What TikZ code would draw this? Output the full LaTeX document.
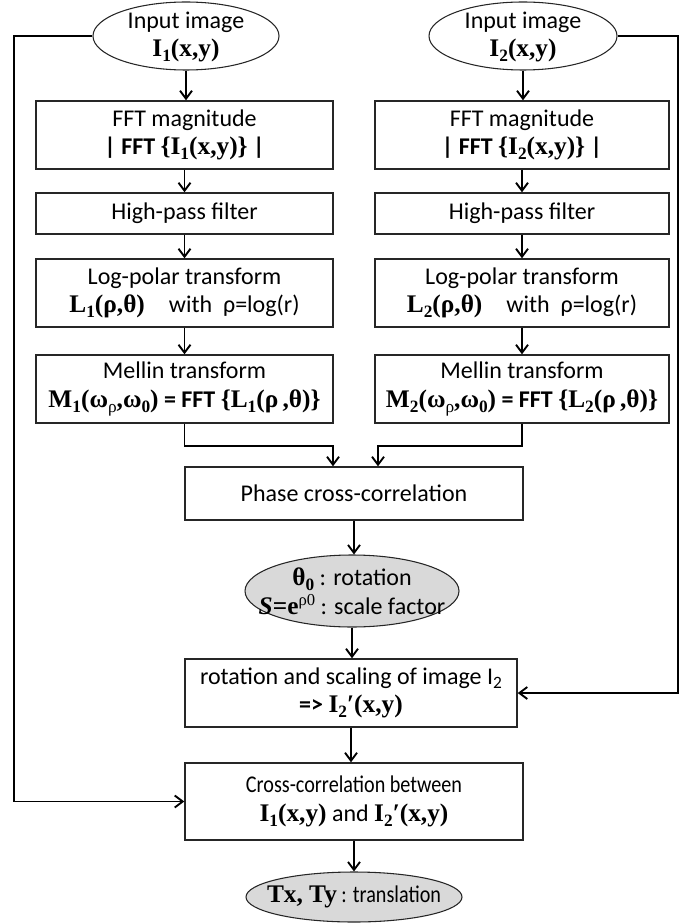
\documentclass[tikz,border=0pt]{standalone}
\usepackage{fontspec}
\setmainfont{Carlito}
\newfontfamily\srf{Liberation Serif}
\newfontfamily\cond{Carlito}[FakeStretch=0.84]
\usetikzlibrary{shapes.geometric,arrows.meta}
\newcommand\sbs[1]{\raisebox{-0.4ex}{\fontsize{13}{12}\selectfont #1}}
\newcommand\sps[1]{\raisebox{0.75ex}{\fontsize{12.5}{12}\selectfont #1}}
\newcommand\mb[1]{{\srf\bfseries\fontsize{19}{21.5}\selectfont #1}}
\begin{document}
\begin{tikzpicture}[x=0.75pt,y=-0.75pt,
  box/.style={draw=black!85, line width=1.1pt, rectangle, inner sep=0pt, align=center, font=\fontsize{18}{21.5}\selectfont},
  ell/.style={draw=black!85, ellipse, line width=0.8pt, inner sep=0pt},
  lbl/.style={align=center, font=\fontsize{18}{21.5}\selectfont, inner sep=0pt},
  arr/.style={-{Straight Barb[length=6pt,width=9pt]}, line width=1.4pt},
  conn/.style={line width=1.4pt}]
\useasboundingbox (0,0) rectangle (682,923);
% left column
\node[ell, minimum width=186*0.75pt, minimum height=68*0.75pt] (e1) at (186,36) {};
\node[lbl] (e1t) at (186,37) {Input image\\ \mb{I\sbs{1}(x,y)}};
\node[box, minimum width=297*0.75pt, minimum height=68*0.75pt] (f1) at (184.5,135) {FFT magnitude\\ \textbf{| FFT }\mb{\{I\sbs{1}(x,y)\}}\textbf{ |}};
\node[box, minimum width=297*0.75pt, minimum height=41*0.75pt] (h1) at (184.5,213.5) {High-pass filter};
\node[box, minimum width=297*0.75pt, minimum height=68*0.75pt] (l1) at (184.5,293) {Log-polar transform\\ \mb{L\sbs{1}(ρ,θ)}\quad with\ \ ρ=log(r)};
\node[box, minimum width=297*0.75pt, minimum height=68*0.75pt] (m1) at (184.5,389) {Mellin transform\\ \mb{M\sbs{1}(ω\sbs{\mdseries ρ},ω\sbs{0})}\textbf{ = FFT }\mb{\{L\sbs{1}(ρ\,,θ)\}}};
% right column
\node[ell, minimum width=188*0.75pt, minimum height=68*0.75pt] (e2) at (523,36) {};
\node[lbl] (e2t) at (523,37) {Input image\\ \mb{I\sbs{2}(x,y)}};
\node[box, minimum width=294*0.75pt, minimum height=68*0.75pt] (f2) at (522,135) {FFT magnitude\\ \textbf{| FFT }\mb{\{I\sbs{2}(x,y)\}}\textbf{ |}};
\node[box, minimum width=294*0.75pt, minimum height=41*0.75pt] (h2) at (522,213.5) {High-pass filter};
\node[box, minimum width=294*0.75pt, minimum height=68*0.75pt] (l2) at (522,293) {Log-polar transform\\ \mb{L\sbs{2}(ρ,θ)}\quad with\ \ ρ=log(r)};
\node[box, minimum width=294*0.75pt, minimum height=68*0.75pt] (m2) at (522,389) {Mellin transform\\ \mb{M\sbs{2}(ω\sbs{\mdseries ρ},ω\sbs{0})}\textbf{ = FFT }\mb{\{L\sbs{2}(ρ\,,θ)\}}};
% center
\node[box, minimum width=338*0.75pt, minimum height=53*0.75pt] (ph) at (354,493.5) {Phase cross-correlation};
\node[ell, fill=black!15, minimum width=214*0.75pt, minimum height=72*0.75pt] (g) at (352,591) {};
\node[lbl] (gt) at (352,591) {\mb{θ\sbs{0}} : rotation\\ \mb{{\itshape S}=e}\sps{\srf ρ0} : scale factor};
\node[box, minimum width=332*0.75pt, minimum height=68*0.75pt] (rot) at (351,693) {rotation and scaling of image I\sbs{2}\\ \textbf{=> }\mb{I\sbs{2}′(x,y)}};
\node[box, minimum width=338*0.75pt, minimum height=77*0.75pt] (cc) at (354,801.5) {\cond Cross-correlation between\\ \mb{I\sbs{1}(x,y)} and \mb{I\sbs{2}′(x,y)}};
\node[ell, fill=black!15, minimum width=216*0.75pt, minimum height=50*0.75pt] (t) at (354,897) {};
\node[lbl] (tt) at (354,897) {\mb{Tx, Ty}\cond{} : translation};
% helper coordinates
\coordinate (L) at (14,0);
\coordinate (R) at (678,0);
\coordinate (j1) at (333,446);
\coordinate (j2) at (378,446);
% connectors
\draw[arr] (e1.south) -- (e1.south |- f1.north);
\draw[arr] (f1.south) -- (h1.north);
\draw[arr] (h1.south) -- (l1.north);
\draw[arr] (l1.south) -- (m1.north);
\draw[arr] (e2.south) -- (e2.south |- f2.north);
\draw[arr] (f2.south) -- (h2.north);
\draw[arr] (h2.south) -- (l2.north);
\draw[arr] (l2.south) -- (m2.north);
\draw[arr] (m1.south) |- (j1) -- (j1 |- ph.north);
\draw[arr] (m2.south) |- (j2) -- (j2 |- ph.north);
\draw[arr] (ph.south) -- (ph.south |- g.north);
\draw[arr] (g.south) -- (g.south |- rot.north);
\draw[arr] (rot.south) -- (rot.south |- cc.north);
\draw[arr] (cc.south) -- (cc.south |- t.north);
\draw[arr] (e1.west) -- (e1.west -| L) |- (cc.west);
\draw[arr] (e2.east) -- (e2.east -| R) |- (rot.east);
\end{tikzpicture}
\end{document}
